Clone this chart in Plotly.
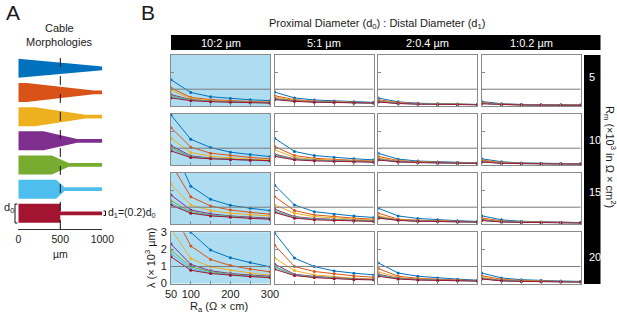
import plotly.graph_objects as go

W, H = 617, 313


def fx(px):
    return px / W


def fy(py):
    return 1 - py / H


# ---------------- data ----------------
ra = [50, 100, 150, 200, 250, 300]
ref_level = 1.0
colors = ['#0072BD', '#D95319', '#EDB120', '#7E2F8E', '#77AC30', '#4DBEEE', '#A2142F']
diam_labels = ['10:2 µm', '5:1 µm', '2:0.4 µm', '1:0.2 µm']
rm_labels = ['5', '10', '15', '20']
taper_start = [0, 100, 200, 300, 400, 450, 500]
taper_end = [1000, 900, 800, 700, 600, 550, 500]
d0_units = 0.786
d1_ratio = 0.2
ra_ticks = [50, 100, 150, 200, 250, 300]
ra_ticktext = ['50', '100', '', '200', '', '300']
lam_ticks = [0, 1, 2, 3]

# lambda (x10^3 um), one list per morphology (blue, orange, yellow, purple, green, light blue, dark red)
lam_d10_rm5 = [
    [1.55, 0.81, 0.56, 0.45, 0.38, 0.33],
    [1.07, 0.52, 0.39, 0.32, 0.28, 0.25],
    [0.93, 0.46, 0.34, 0.28, 0.25, 0.23],
    [0.68, 0.39, 0.30, 0.26, 0.23, 0.21],
    [0.62, 0.37, 0.29, 0.25, 0.22, 0.20],
    [0.56, 0.35, 0.28, 0.24, 0.21, 0.19],
    [0.49, 0.33, 0.27, 0.23, 0.21, 0.19]]
lam_d10_rm10 = [
    [2.94, 1.52, 1.04, 0.77, 0.63, 0.51],
    [2.20, 1.06, 0.71, 0.58, 0.46, 0.38],
    [1.58, 0.75, 0.52, 0.43, 0.36, 0.31],
    [1.15, 0.55, 0.42, 0.35, 0.30, 0.27],
    [1.04, 0.50, 0.40, 0.34, 0.29, 0.26],
    [0.94, 0.47, 0.39, 0.33, 0.29, 0.26],
    [0.84, 0.45, 0.38, 0.33, 0.29, 0.27]]
lam_d10_rm15 = [
    [4.80, 2.23, 1.46, 1.11, 0.94, 0.80],
    [3.54, 1.61, 1.07, 0.84, 0.70, 0.59],
    [2.35, 1.13, 0.80, 0.65, 0.56, 0.49],
    [1.71, 0.84, 0.61, 0.49, 0.42, 0.36],
    [1.38, 0.74, 0.55, 0.45, 0.38, 0.33],
    [1.23, 0.68, 0.52, 0.43, 0.36, 0.31],
    [1.13, 0.65, 0.49, 0.41, 0.35, 0.30]]
lam_d10_rm20 = [
    [5.90, 3.00, 1.96, 1.51, 1.23, 0.98],
    [4.40, 2.20, 1.41, 1.06, 0.85, 0.69],
    [3.20, 1.47, 0.98, 0.78, 0.62, 0.49],
    [2.31, 1.12, 0.75, 0.59, 0.50, 0.43],
    [1.96, 0.98, 0.69, 0.55, 0.46, 0.39],
    [1.76, 0.88, 0.63, 0.51, 0.43, 0.37],
    [1.57, 0.78, 0.59, 0.49, 0.41, 0.35]]

lam_d5_rm5 = [
    [0.83, 0.49, 0.37, 0.31, 0.26, 0.23],
    [0.62, 0.39, 0.31, 0.26, 0.23, 0.21],
    [0.54, 0.35, 0.28, 0.24, 0.22, 0.20],
    [0.45, 0.32, 0.26, 0.23, 0.21, 0.19],
    [0.42, 0.31, 0.25, 0.22, 0.20, 0.19],
    [0.40, 0.30, 0.25, 0.22, 0.20, 0.19],
    [0.39, 0.29, 0.24, 0.22, 0.20, 0.19]]
lam_d5_rm10 = [
    [1.58, 0.81, 0.57, 0.46, 0.38, 0.32],
    [1.10, 0.57, 0.41, 0.34, 0.29, 0.26],
    [0.90, 0.46, 0.35, 0.29, 0.26, 0.23],
    [0.65, 0.38, 0.30, 0.26, 0.23, 0.21],
    [0.60, 0.36, 0.29, 0.25, 0.22, 0.20],
    [0.56, 0.34, 0.28, 0.24, 0.21, 0.19],
    [0.52, 0.32, 0.26, 0.22, 0.20, 0.18]]
lam_d5_rm15 = [
    [2.29, 1.13, 0.74, 0.59, 0.48, 0.40],
    [1.61, 0.80, 0.55, 0.45, 0.36, 0.30],
    [1.13, 0.65, 0.45, 0.37, 0.30, 0.26],
    [0.88, 0.45, 0.34, 0.28, 0.24, 0.21],
    [0.78, 0.41, 0.31, 0.26, 0.22, 0.19],
    [0.73, 0.38, 0.29, 0.24, 0.20, 0.18],
    [0.69, 0.36, 0.26, 0.22, 0.19, 0.17]]
lam_d5_rm20 = [
    [2.96, 1.49, 1.00, 0.74, 0.61, 0.51],
    [2.24, 1.00, 0.71, 0.57, 0.45, 0.37],
    [1.49, 0.76, 0.51, 0.40, 0.32, 0.27],
    [1.13, 0.55, 0.42, 0.34, 0.28, 0.24],
    [1.00, 0.52, 0.39, 0.31, 0.26, 0.23],
    [0.94, 0.50, 0.37, 0.29, 0.25, 0.22],
    [0.84, 0.47, 0.35, 0.28, 0.24, 0.22]]

lam_d2_rm5 = [
    [0.48, 0.26, 0.18, 0.15, 0.13, 0.11],
    [0.38, 0.22, 0.16, 0.13, 0.12, 0.10],
    [0.33, 0.20, 0.15, 0.12, 0.11, 0.10],
    [0.29, 0.18, 0.14, 0.12, 0.11, 0.10],
    [0.27, 0.17, 0.14, 0.12, 0.11, 0.10],
    [0.26, 0.17, 0.14, 0.12, 0.10, 0.09],
    [0.25, 0.16, 0.13, 0.11, 0.10, 0.09]]
lam_d2_rm10 = [
    [0.70, 0.36, 0.25, 0.20, 0.17, 0.14],
    [0.52, 0.28, 0.21, 0.17, 0.15, 0.13],
    [0.42, 0.25, 0.19, 0.16, 0.14, 0.12],
    [0.36, 0.22, 0.17, 0.15, 0.13, 0.12],
    [0.34, 0.21, 0.17, 0.14, 0.13, 0.11],
    [0.33, 0.21, 0.16, 0.14, 0.12, 0.11],
    [0.31, 0.20, 0.16, 0.14, 0.12, 0.11]]
lam_d2_rm15 = [
    [0.94, 0.49, 0.34, 0.26, 0.21, 0.17],
    [0.65, 0.30, 0.24, 0.20, 0.17, 0.15],
    [0.49, 0.28, 0.21, 0.18, 0.16, 0.14],
    [0.42, 0.25, 0.19, 0.17, 0.15, 0.14],
    [0.39, 0.24, 0.19, 0.16, 0.15, 0.13],
    [0.37, 0.23, 0.18, 0.16, 0.14, 0.13],
    [0.36, 0.23, 0.18, 0.16, 0.14, 0.13]]
lam_d2_rm20 = [
    [1.21, 0.62, 0.43, 0.33, 0.26, 0.20],
    [0.88, 0.43, 0.31, 0.25, 0.21, 0.18],
    [0.69, 0.36, 0.27, 0.22, 0.19, 0.17],
    [0.55, 0.31, 0.24, 0.20, 0.18, 0.16],
    [0.50, 0.29, 0.23, 0.19, 0.17, 0.16],
    [0.46, 0.28, 0.22, 0.19, 0.17, 0.15],
    [0.43, 0.27, 0.21, 0.18, 0.17, 0.15]]

lam_d1_rm5 = [
    [0.28, 0.15, 0.11, 0.09, 0.08, 0.07],
    [0.23, 0.13, 0.10, 0.08, 0.07, 0.07],
    [0.20, 0.12, 0.09, 0.08, 0.07, 0.06],
    [0.18, 0.11, 0.09, 0.07, 0.07, 0.06],
    [0.17, 0.10, 0.08, 0.07, 0.06, 0.06],
    [0.16, 0.10, 0.08, 0.07, 0.06, 0.06],
    [0.15, 0.10, 0.08, 0.07, 0.06, 0.06]]
lam_d1_rm10 = [
    [0.38, 0.21, 0.14, 0.12, 0.10, 0.09],
    [0.30, 0.17, 0.12, 0.10, 0.09, 0.08],
    [0.25, 0.15, 0.11, 0.10, 0.09, 0.08],
    [0.22, 0.13, 0.11, 0.09, 0.08, 0.08],
    [0.21, 0.13, 0.10, 0.09, 0.08, 0.07],
    [0.20, 0.12, 0.10, 0.09, 0.08, 0.07],
    [0.19, 0.12, 0.10, 0.09, 0.08, 0.07]]
lam_d1_rm15 = [
    [0.50, 0.26, 0.18, 0.14, 0.12, 0.10],
    [0.37, 0.20, 0.15, 0.12, 0.11, 0.10],
    [0.30, 0.17, 0.13, 0.11, 0.10, 0.09],
    [0.26, 0.15, 0.12, 0.11, 0.10, 0.09],
    [0.24, 0.15, 0.12, 0.10, 0.09, 0.09],
    [0.23, 0.14, 0.12, 0.10, 0.09, 0.08],
    [0.22, 0.14, 0.11, 0.10, 0.09, 0.08]]
lam_d1_rm20 = [
    [0.62, 0.33, 0.23, 0.18, 0.15, 0.13],
    [0.46, 0.25, 0.18, 0.15, 0.13, 0.11],
    [0.37, 0.21, 0.16, 0.13, 0.12, 0.10],
    [0.31, 0.18, 0.14, 0.12, 0.11, 0.10],
    [0.29, 0.17, 0.14, 0.12, 0.11, 0.10],
    [0.28, 0.17, 0.13, 0.12, 0.10, 0.09],
    [0.27, 0.16, 0.13, 0.11, 0.10, 0.09]]

panels = [
    [lam_d10_rm5, lam_d5_rm5, lam_d2_rm5, lam_d1_rm5],
    [lam_d10_rm10, lam_d5_rm10, lam_d2_rm10, lam_d1_rm10],
    [lam_d10_rm15, lam_d5_rm15, lam_d2_rm15, lam_d1_rm15],
    [lam_d10_rm20, lam_d5_rm20, lam_d2_rm20, lam_d1_rm20],
]

# ---------------- layout geometry (pixels) ----------------
col_left = [171, 274.7, 378.3, 481.7]
col_w = 99
row_top = [55, 114, 173, 232.3]
row_h = 51.3
FONT = 'Liberation Sans, Arial, sans-serif'
BORDER = '#8a8a8a'
HILITE = '#AEDDF1'
TXT = '#1a1a1a'

fig = go.Figure()
layout = dict(template='none', width=W, height=H,
              margin=dict(l=0, r=0, t=0, b=0, pad=0, autoexpand=False),
              paper_bgcolor='white', plot_bgcolor='white', showlegend=False,
              font=dict(family=FONT, size=11, color=TXT))
shapes = []
annotations = []

k = 0
for r in range(4):
    for c in range(4):
        k += 1
        xa = 'xaxis' if k == 1 else f'xaxis{k}'
        ya = 'yaxis' if k == 1 else f'yaxis{k}'
        xr = 'x' if k == 1 else f'x{k}'
        yr = 'y' if k == 1 else f'y{k}'
        left = col_left[c]
        top = row_top[r]
        labelled = (r == 3 and c == 0)
        layout[xa] = dict(domain=[fx(left), fx(left + col_w)], range=[50, 300], anchor=yr,
                          showline=True, mirror=True, linecolor=BORDER, linewidth=1,
                          ticks='inside', ticklen=3, tickcolor=BORDER,
                          tickvals=ra_ticks, ticktext=ra_ticktext, automargin=False,
                          showticklabels=labelled, showgrid=False, zeroline=False,
                          ticklabelstandoff=0,
                          tickfont=dict(size=11, color=TXT))
        layout[ya] = dict(domain=[fy(top + row_h), fy(top)], range=[0, 3], anchor=xr,
                          showline=True, mirror=True, linecolor=BORDER, linewidth=1,
                          ticks='inside', ticklen=3, tickcolor=BORDER, automargin=False,
                          tickvals=lam_ticks, showticklabels=labelled,
                          showgrid=False, zeroline=False, ticklabelstandoff=1,
                          tickfont=dict(size=11, color=TXT))
        if c == 0:
            shapes.append(dict(type='rect', xref=f'{xr} domain', yref=f'{yr} domain',
                               x0=0, x1=1, y0=0, y1=1, fillcolor=HILITE,
                               line=dict(width=0), layer='below'))
        data = panels[r][c]
        for s, vals in enumerate(data):
            fig.add_trace(go.Scatter(x=ra, y=vals, mode='lines+markers', xaxis=xr, yaxis=yr,
                                     line=dict(color=colors[s], width=1),
                                     marker=dict(color=colors[s], size=3),
                                     cliponaxis=True, hoverinfo='skip'))
        fig.add_trace(go.Scatter(x=[ra[0], ra[-1]], y=[ref_level, ref_level], mode='lines',
                                 xaxis=xr, yaxis=yr, line=dict(color='#7a7a7a', width=1),
                                 hoverinfo='skip'))

# ---------------- panel A: morphologies ----------------
layout['xaxis17'] = dict(domain=[fx(18.3), fx(102.3)], range=[0, 1000], anchor='y17',
                         showline=True, linecolor='#333', linewidth=1, ticks='inside',
                         ticklen=3, tickcolor='#333', tickvals=[0, 500, 1000], automargin=False,
                         showgrid=False, zeroline=False, tickfont=dict(size=10.5, color=TXT))
layout['yaxis17'] = dict(domain=[fy(229.3), fy(55)], range=[-0.662, 6.55], anchor='x17',
                         visible=False, showgrid=False, zeroline=False, automargin=False)
hw0 = d0_units / 2
hw1 = hw0 * d1_ratio
for i in range(7):
    cy = 6 - i
    ts, te = taper_start[i], taper_end[i]
    xs = [0, ts, te, 1000, 1000, te, ts, 0, 0]
    ys = [cy + hw0, cy + hw0, cy + hw1, cy + hw1, cy - hw1, cy - hw1, cy - hw0, cy - hw0, cy + hw0]
    fig.add_trace(go.Scatter(x=xs, y=ys, mode='lines', fill='toself', fillcolor=colors[i],
                             line=dict(width=0, color=colors[i]), xaxis='x17', yaxis='y17',
                             hoverinfo='skip'))
fig.add_trace(go.Scatter(x=[500, 500], y=[6.43, -0.662], mode='lines', xaxis='x17', yaxis='y17',
                         line=dict(color='#111', width=1, dash='dash'), hoverinfo='skip'))

# bars for panel B
shapes.append(dict(type='rect', xref='paper', yref='paper', x0=fx(171), x1=fx(600.5),
                   y0=fy(50), y1=fy(35), fillcolor='black', line=dict(width=0)))
shapes.append(dict(type='rect', xref='paper', yref='paper', x0=fx(584), x1=fx(600.5),
                   y0=fy(284), y1=fy(55), fillcolor='black', line=dict(width=0)))
# bracket for d0
shapes.append(dict(type='path', xref='paper', yref='paper',
                   path=f'M {fx(17.5)},{fy(204)} L {fx(15)},{fy(204)} L {fx(15)},{fy(223)} L {fx(17.5)},{fy(223)}',
                   line=dict(color='#111', width=1)))
# small bracket for d1
shapes.append(dict(type='path', xref='paper', yref='paper',
                   path=f'M {fx(103.5)},{fy(211)} L {fx(105.5)},{fy(211)} L {fx(105.5)},{fy(215.5)} L {fx(103.5)},{fy(215.5)}',
                   line=dict(color='#111', width=1)))


def ann(text, x, y, size=11, color=TXT, xanchor='center', yanchor='middle', angle=0):
    annotations.append(dict(text=text, x=fx(x), y=fy(y), xref='paper', yref='paper',
                            showarrow=False, font=dict(size=size, color=color, family=FONT),
                            xanchor=xanchor, yanchor=yanchor, textangle=angle))


ann('A', 4, 13, size=21, xanchor='left')
ann('B', 139, 13, size=21, xanchor='left')
ann('Cable', 59, 28, size=11)
ann('Morphologies', 59, 42, size=11)
ann('µm', 60, 254, size=10.5)
ann('d<sub>0</sub>', 9, 208, size=11)
ann('d<sub>1</sub>=(0.2)d<sub>0</sub>', 106, 213, size=10.5, xanchor='left')
ann('Proximal Diameter (d<sub>0</sub>) : Distal Diameter (d<sub>1</sub>)', 377, 24, size=11)
for c, lab in enumerate(diam_labels):
    ann(lab, col_left[c] + col_w / 2, 43, size=11, color='white')
rm_y = [77, 140, 192, 257]
for r, lab in enumerate(rm_labels):
    ann(lab, 587, rm_y[r], size=11, color='white', xanchor='left')
ann('R<sub>m</sub> (×10<sup>3</sup> in Ω × cm<sup>2</sup>)', 610, 157, size=11, angle=90)
ann('λ (× 10<sup>3</sup> µm)', 150, 258, size=11, angle=-90)
ann('R<sub>a</sub> (Ω × cm)', 219, 307, size=11)

layout['shapes'] = shapes
layout['annotations'] = annotations
fig.update_layout(**layout)
fig.write_html('out.html', config={'displayModeBar': False, 'staticPlot': True},
               post_script="document.body.style.margin='0px';document.body.style.padding='0px';"
                           "document.documentElement.style.overflow='hidden';")
